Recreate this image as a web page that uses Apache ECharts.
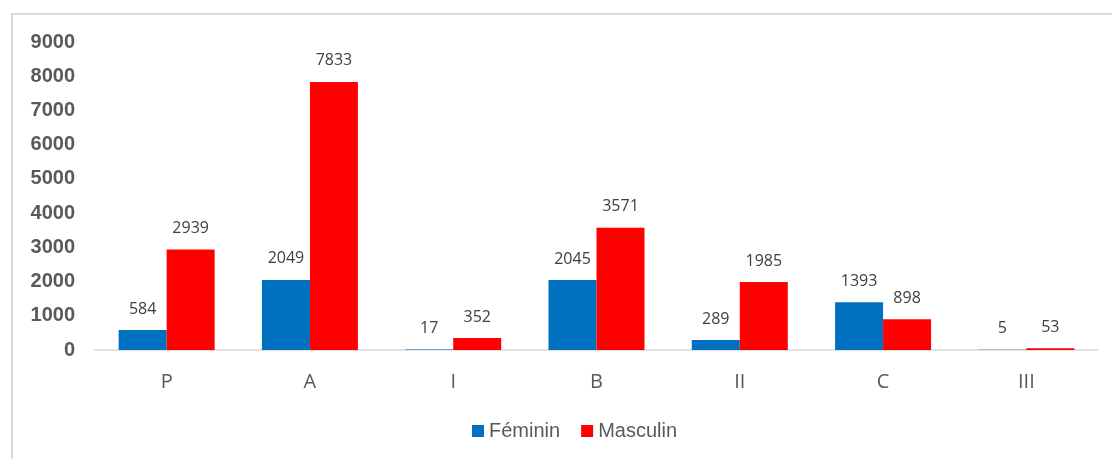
<!DOCTYPE html>
<html>
<head>
<meta charset="utf-8">
<script src="https://cdn.jsdelivr.net/npm/echarts@6/dist/echarts.min.js"></script>
<style>
html, body { margin: 0; padding: 0; background: #fff; }
#frame {
    position: absolute; left: 11px; top: 13px; width: 1101px; height: 446px;
    border-left: 2px solid #d9d9d9; border-top: 2px solid #d9d9d9; box-sizing: border-box;
}
#chart { position: absolute; left: 0; top: 0; width: 1112px; height: 459px; }
</style>
</head>
<body>
<div id="frame"></div>
<div id="chart"></div>
<script>
var categories = ['P', 'A', 'I', 'B', 'II', 'C', 'III'];
var feminin = [584, 2049, 17, 2045, 289, 1393, 5];
var masculin = [2939, 7833, 352, 3571, 1985, 898, 53];

var myChart = echarts.init(document.getElementById('chart'));
var labelStyle = {
    show: true,
    position: 'top',
    distance: 13,
    color: '#404040',
    fontSize: 16,
    fontFamily: 'Open Sans'
};
var option = {
    animation: false,
    textStyle: { fontFamily: 'Liberation Sans' },
    grid: { left: 95, right: 14, top: 42, bottom: 109 },
    legend: {
        bottom: 13,
        left: 467,
        itemWidth: 12,
        itemHeight: 12,
        itemGap: 21,
        icon: 'rect',
        textStyle: { color: '#595959', fontSize: 20, fontFamily: 'Liberation Sans' },
        data: ['Féminin', 'Masculin']
    },
    xAxis: {
        type: 'category',
        data: categories,
        axisLine: { lineStyle: { color: '#d9d9d9', width: 1.5 } },
        axisTick: { show: false },
        axisLabel: { color: '#595959', fontSize: 20, fontFamily: 'Open Sans', margin: 22 }
    },
    yAxis: {
        type: 'value',
        min: 0,
        max: 9000,
        interval: 1000,
        splitLine: { show: false },
        axisLine: { show: false },
        axisTick: { show: false },
        axisLabel: {
            color: '#595959', fontSize: 20, fontWeight: 'bold', fontFamily: 'Liberation Sans', margin: 20,
            formatter: function (v) { return String(v); }
        }
    },
    series: [
        {
            name: 'Féminin',
            type: 'bar',
            data: feminin,
            barGap: '0%',
            barCategoryGap: '33%',
            itemStyle: { color: '#0070c0' },
            label: labelStyle
        },
        {
            name: 'Masculin',
            type: 'bar',
            data: masculin,
            itemStyle: { color: '#ff0000' },
            label: labelStyle
        }
    ]
};
myChart.setOption(option);
</script>
</body>
</html>
